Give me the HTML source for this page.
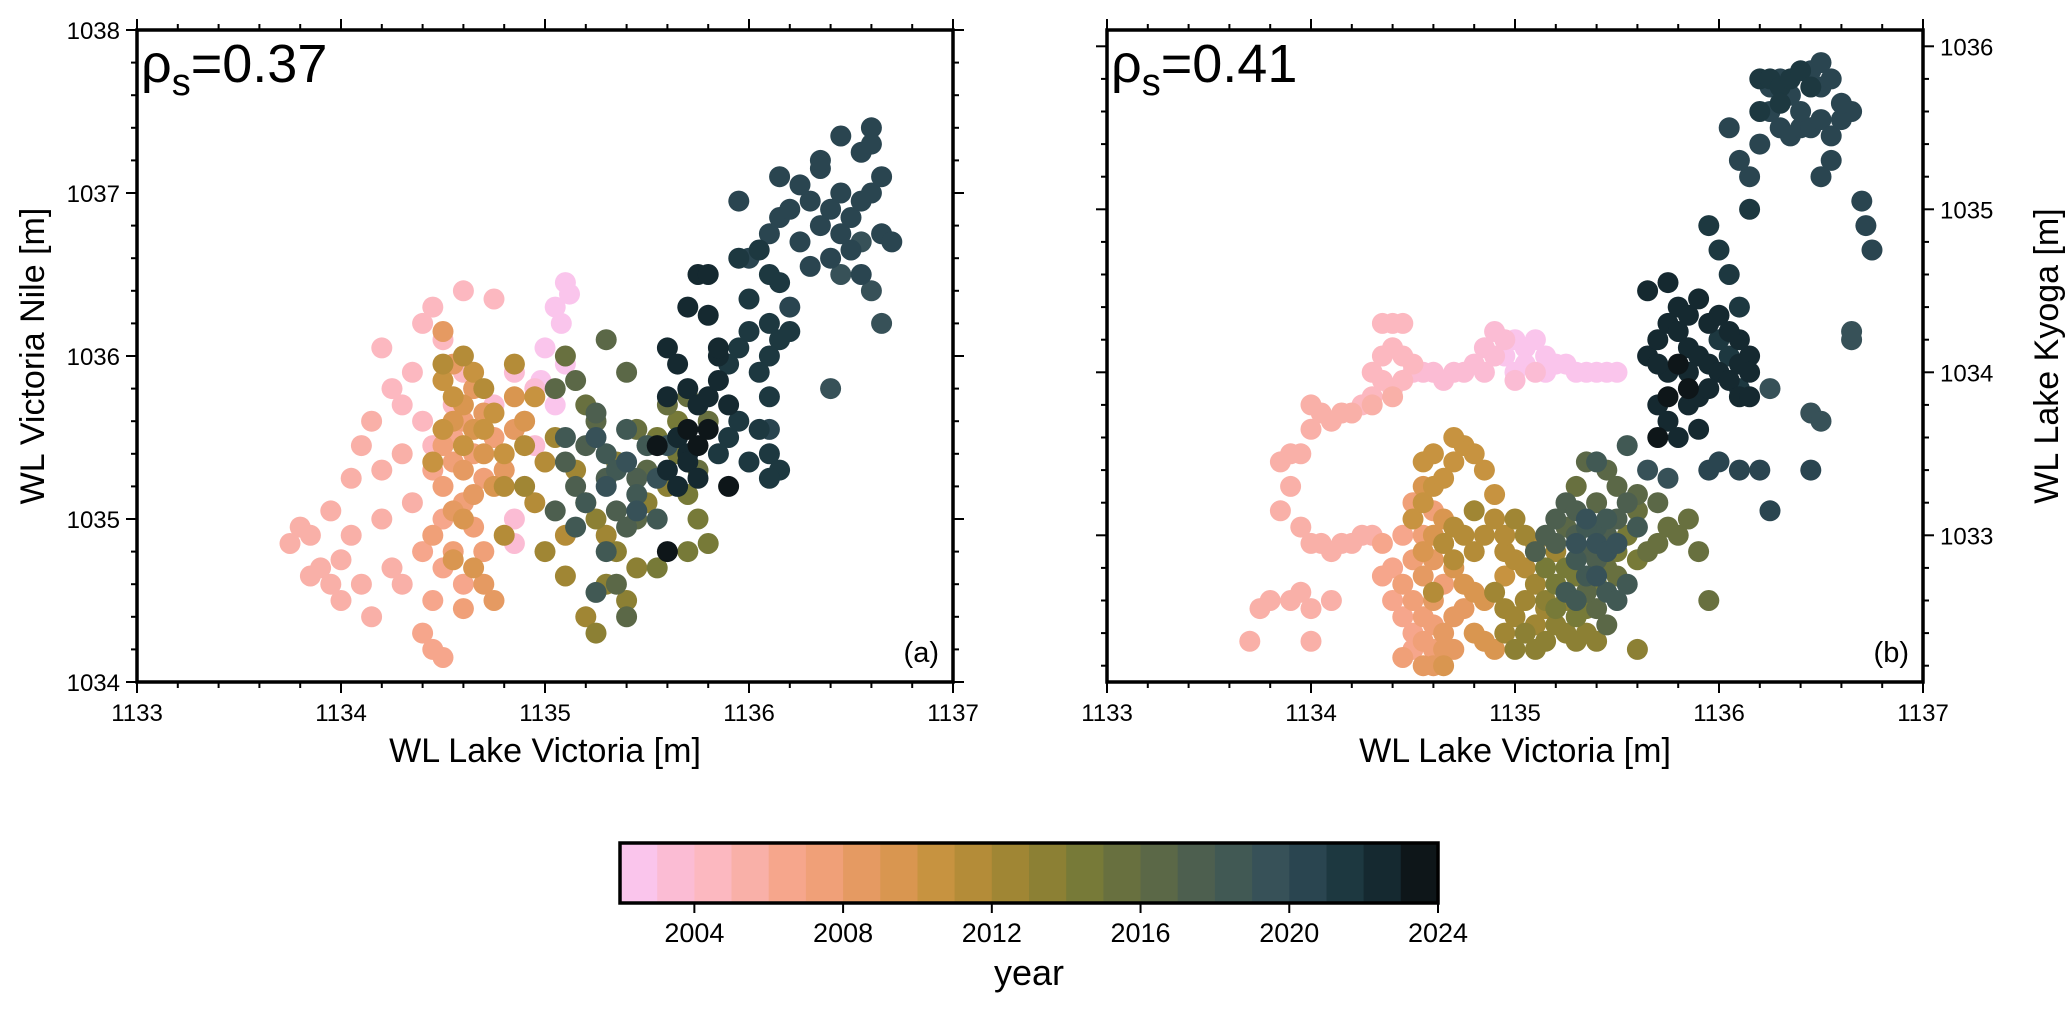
<!DOCTYPE html>
<html><head><meta charset="utf-8"><style>
html,body{margin:0;padding:0;background:#fff;}
svg text{font-family:"Liberation Sans",sans-serif;fill:#000;}
</style></head><body>
<svg id="chart" width="2067" height="1005" viewBox="0 0 2067 1005" xmlns="http://www.w3.org/2000/svg">
<g id="plotA"></g>
<g id="plotB"></g>
<g id="axes"></g>
<g id="cbar"></g>
</svg>
<script>
const colorYears=[2002,2003,2004,2005,2006,2007,2008,2009,2010,2011,2012,2013,2014,2015,2016,2017,2018,2019,2020,2021,2022,2023];
const colors=["#fac5ec","#fbbcd4","#fcb8c0","#f9b0a8","#f6a68c","#f0a078","#e59a62","#d99650","#c79340","#b48c38","#a08634","#8c8034","#777a38","#68703f","#5b6847","#4d5f4f","#415954","#375158","#2a4550","#1d3840","#152930","#0e1619"];
const cbarTicks=[2004,2008,2012,2016,2020,2024];
const xTicks=[1133,1134,1135,1136,1137];
const yTicksA=[1034,1035,1036,1037,1038];
const yTicksB=[1033,1034,1035,1036];
const rhoLabels=["0.37","0.41"];
// panel a: [x, y, year]
const ptsA=[
[1135.1,1036.45,2002],[1135.12,1036.38,2002],[1135.05,1036.3,2002],[1135.08,1036.2,2002],[1135.0,1036.05,2002],[1135.1,1035.95,2002],[1134.98,1035.85,2002],[1135.05,1035.7,2002],
[1134.95,1035.8,2003],[1134.85,1035.9,2003],[1134.9,1035.6,2003],[1134.95,1035.45,2003],[1134.8,1035.3,2003],[1134.9,1035.2,2003],[1134.85,1035.0,2003],[1134.75,1035.7,2003],[1134.85,1034.85,2003],
[1134.6,1036.4,2004],[1134.75,1036.35,2004],[1134.45,1036.3,2004],[1134.4,1036.2,2004],[1134.5,1036.1,2004],[1134.35,1035.9,2004],[1134.3,1035.7,2004],[1134.25,1035.8,2004],[1134.2,1036.05,2004],[1134.55,1035.7,2004],[1134.4,1035.6,2004],[1134.45,1035.45,2004],[1134.6,1035.9,2004],
[1133.75,1034.85,2005],[1133.85,1034.9,2005],[1133.8,1034.95,2005],[1133.9,1034.7,2005],[1133.95,1034.6,2005],[1134.0,1034.5,2005],[1134.05,1034.9,2005],[1133.95,1035.05,2005],[1134.05,1035.25,2005],[1134.1,1035.45,2005],[1134.15,1035.6,2005],[1134.3,1035.4,2005],[1134.25,1034.7,2005],[1134.3,1034.6,2005],[1134.15,1034.4,2005],[1134.35,1035.1,2005],[1134.2,1035.3,2005],[1133.85,1034.65,2005],[1134.0,1034.75,2005],[1134.1,1034.6,2005],[1134.2,1035.0,2005],
[1134.4,1034.3,2006],[1134.45,1034.2,2006],[1134.5,1034.15,2006],[1134.45,1034.5,2006],[1134.4,1034.8,2006],[1134.5,1035.0,2006],[1134.45,1035.3,2006],[1134.55,1035.5,2006],[1134.5,1034.7,2006],[1134.6,1034.6,2006],
[1134.5,1035.2,2007],[1134.55,1035.35,2007],[1134.6,1035.1,2007],[1134.65,1034.95,2007],[1134.55,1034.8,2007],[1134.6,1035.6,2007],[1134.65,1035.4,2007],[1134.7,1035.25,2007],[1134.5,1035.45,2007],[1134.45,1034.9,2007],[1134.7,1034.8,2007],[1134.6,1034.45,2007],[1134.75,1035.5,2007],
[1134.5,1036.15,2008],[1134.55,1035.95,2008],[1134.65,1035.8,2008],[1134.7,1035.65,2008],[1134.6,1035.3,2008],[1134.65,1035.15,2008],[1134.55,1035.05,2008],[1134.7,1034.6,2008],[1134.75,1034.5,2008],[1134.8,1035.3,2008],[1134.85,1035.55,2008],
[1134.6,1035.7,2009],[1134.65,1035.55,2009],[1134.55,1035.6,2009],[1134.7,1035.4,2009],[1134.75,1035.2,2009],[1134.6,1035.0,2009],[1134.55,1034.75,2009],[1134.65,1034.7,2009],[1134.9,1035.6,2009],[1134.85,1035.75,2009],
[1134.5,1035.55,2010],[1134.45,1035.35,2010],[1134.6,1035.45,2010],[1134.7,1035.55,2010],[1134.8,1035.4,2010],[1134.75,1035.65,2010],[1134.5,1035.85,2010],[1134.55,1035.75,2010],[1134.65,1035.9,2010],[1134.95,1035.75,2010],
[1134.5,1035.95,2011],[1134.6,1036.0,2011],[1134.7,1035.8,2011],[1134.85,1035.95,2011],[1134.9,1035.45,2011],[1135.0,1035.35,2011],[1134.8,1035.2,2011],[1134.95,1035.1,2011],[1135.1,1034.9,2011],[1134.8,1034.9,2011],
[1135.05,1035.5,2012],[1135.15,1035.3,2012],[1135.0,1034.8,2012],[1135.1,1034.65,2012],[1135.2,1035.1,2012],[1134.9,1035.2,2012],[1135.3,1034.9,2012],[1135.2,1034.4,2012],
[1135.25,1035.0,2013],[1135.35,1034.8,2013],[1135.3,1034.6,2013],[1135.4,1034.5,2013],[1135.25,1034.3,2013],[1135.45,1034.7,2013],[1135.5,1035.1,2013],[1135.35,1035.35,2013],[1135.6,1035.2,2013],
[1135.55,1035.5,2014],[1135.65,1035.4,2014],[1135.7,1035.15,2014],[1135.75,1035.0,2014],[1135.8,1034.85,2014],[1135.7,1034.8,2014],[1135.55,1034.7,2014],[1135.65,1035.6,2014],
[1135.6,1035.7,2015],[1135.7,1035.75,2015],[1135.8,1035.6,2015],[1135.75,1035.3,2015],[1135.45,1035.55,2015],[1135.2,1035.7,2015],[1135.1,1036.0,2015],
[1135.05,1035.8,2016],[1135.15,1035.85,2016],[1135.25,1035.6,2016],[1135.3,1036.1,2016],[1135.4,1035.9,2016],[1135.5,1035.3,2016],[1135.45,1035.0,2016],[1135.35,1034.6,2016],[1135.4,1034.4,2016],
[1135.15,1035.2,2017],[1135.2,1035.45,2017],[1135.3,1035.25,2017],[1135.35,1035.05,2017],[1135.1,1035.35,2017],[1135.25,1035.65,2017],[1135.45,1035.25,2017],[1135.4,1034.95,2017],[1135.05,1035.05,2017],
[1135.2,1035.1,2018],[1135.3,1035.4,2018],[1135.4,1035.55,2018],[1135.5,1035.45,2018],[1135.35,1035.3,2018],[1135.45,1035.15,2018],[1135.1,1035.5,2018],[1135.15,1034.95,2018],[1135.55,1035.0,2018],[1135.3,1034.8,2018],[1135.25,1034.55,2018],
[1135.4,1035.35,2019],[1135.3,1035.2,2019],[1135.45,1035.05,2019],[1135.25,1035.5,2019],[1135.55,1035.25,2019],[1135.6,1035.45,2019],[1136.4,1035.8,2019],[1136.65,1036.2,2019],[1136.6,1036.4,2019],[1136.55,1036.7,2019],[1136.45,1036.5,2019],
[1136.0,1036.6,2020],[1136.1,1036.75,2020],[1136.15,1036.85,2020],[1136.25,1036.7,2020],[1136.3,1036.95,2020],[1136.35,1036.8,2020],[1136.4,1036.9,2020],[1136.45,1037.0,2020],[1136.5,1036.85,2020],[1136.55,1036.95,2020],[1136.6,1037.0,2020],[1136.65,1036.75,2020],[1136.7,1036.7,2020],[1136.5,1036.65,2020],[1136.4,1036.6,2020],[1136.45,1037.35,2020],[1136.6,1037.4,2020],[1136.55,1037.25,2020],[1136.35,1037.15,2020],[1136.25,1037.05,2020],[1136.15,1037.1,2020],[1136.2,1036.9,2020],[1136.3,1036.55,2020],[1136.55,1036.5,2020],[1135.95,1036.95,2020],[1136.35,1037.2,2020],[1136.6,1037.3,2020],[1136.65,1037.1,2020],[1136.45,1036.75,2020],[1136.2,1036.3,2020],[1136.1,1035.55,2020],
[1135.85,1035.4,2021],[1135.9,1035.5,2021],[1135.95,1035.6,2021],[1136.0,1035.35,2021],[1136.05,1035.55,2021],[1136.1,1035.4,2021],[1136.15,1035.3,2021],[1136.1,1035.25,2021],[1136.1,1035.75,2021],[1136.05,1035.9,2021],[1135.9,1035.95,2021],[1135.95,1036.05,2021],[1136.0,1036.15,2021],[1136.1,1036.2,2021],[1136.15,1036.1,2021],[1136.2,1036.15,2021],[1136.1,1036.0,2021],[1136.0,1036.35,2021],[1136.05,1036.65,2021],[1136.1,1036.5,2021],[1135.95,1036.6,2021],[1136.15,1036.45,2021],
[1135.6,1036.05,2022],[1135.65,1035.95,2022],[1135.7,1035.8,2022],[1135.75,1035.7,2022],[1135.8,1035.75,2022],[1135.85,1035.85,2022],[1135.9,1035.7,2022],[1135.6,1035.75,2022],[1135.7,1036.3,2022],[1135.75,1036.5,2022],[1135.8,1036.5,2022],[1135.8,1036.25,2022],[1135.85,1036.0,2022],[1135.65,1035.5,2022],[1135.7,1035.4,2022],[1135.7,1035.35,2022],[1135.75,1035.25,2022],[1135.85,1036.05,2022],[1135.6,1035.3,2022],[1135.65,1035.2,2022],
[1135.75,1035.45,2023],[1135.8,1035.55,2023],[1135.7,1035.55,2023],[1135.55,1035.45,2023],[1135.9,1035.2,2023],[1135.6,1034.8,2023]
];
// panel b: [x, y, year]
const ptsB=[
[1135.0,1034.2,2002],[1135.05,1034.15,2002],[1135.1,1034.2,2002],[1135.15,1034.1,2002],[1135.2,1034.05,2002],[1135.25,1034.05,2002],[1135.3,1034.0,2002],[1135.35,1034.0,2002],[1135.4,1034.0,2002],[1135.45,1034.0,2002],[1135.5,1034.0,2002],[1134.95,1034.1,2002],[1135.05,1034.05,2002],[1135.15,1034.0,2002],[1135.0,1034.0,2002],
[1134.8,1034.05,2003],[1134.85,1034.15,2003],[1134.9,1034.1,2003],[1134.9,1034.25,2003],[1134.95,1034.2,2003],[1134.75,1034.0,2003],[1134.7,1034.0,2003],[1134.6,1034.0,2003],[1134.55,1034.0,2003],[1134.65,1033.95,2003],[1134.85,1034.0,2003],[1135.0,1033.95,2003],[1135.1,1034.0,2003],[1134.5,1034.0,2003],
[1134.35,1034.3,2004],[1134.4,1034.3,2004],[1134.45,1034.3,2004],[1134.4,1034.15,2004],[1134.45,1034.1,2004],[1134.5,1034.05,2004],[1134.35,1034.1,2004],[1134.3,1034.0,2004],[1134.35,1033.95,2004],[1134.4,1033.9,2004],[1134.45,1033.95,2004],[1134.3,1033.85,2004],[1134.25,1033.8,2004],
[1134.2,1033.75,2005],[1134.15,1033.75,2005],[1134.1,1033.7,2005],[1134.05,1033.75,2005],[1134.0,1033.8,2005],[1134.0,1033.65,2005],[1133.95,1033.5,2005],[1133.9,1033.5,2005],[1133.85,1033.45,2005],[1133.9,1033.3,2005],[1133.85,1033.15,2005],[1133.95,1033.05,2005],[1134.0,1032.95,2005],[1134.05,1032.95,2005],[1134.1,1032.9,2005],[1134.15,1032.95,2005],[1134.2,1032.95,2005],[1134.25,1033.0,2005],[1134.3,1033.0,2005],[1133.95,1032.65,2005],[1133.9,1032.6,2005],[1133.8,1032.6,2005],[1133.75,1032.55,2005],[1134.0,1032.55,2005],[1133.7,1032.35,2005],[1134.0,1032.35,2005],[1134.1,1032.6,2005],[1134.3,1033.8,2005],[1134.4,1033.85,2005],
[1134.35,1032.75,2006],[1134.4,1032.8,2006],[1134.4,1032.6,2006],[1134.45,1032.5,2006],[1134.5,1032.4,2006],[1134.35,1032.95,2006],[1134.45,1033.0,2006],[1134.5,1032.3,2006],
[1134.45,1032.7,2007],[1134.5,1032.6,2007],[1134.55,1032.5,2007],[1134.6,1032.45,2007],[1134.55,1032.35,2007],[1134.6,1032.3,2007],[1134.65,1032.7,2007],[1134.5,1032.85,2007],[1134.55,1033.0,2007],[1134.6,1033.15,2007],[1134.5,1033.2,2007],[1134.45,1032.25,2007],
[1134.6,1032.85,2008],[1134.65,1032.95,2008],[1134.6,1032.6,2008],[1134.7,1032.5,2008],[1134.65,1032.4,2008],[1134.55,1032.2,2008],[1134.65,1032.3,2008],[1134.75,1032.55,2008],[1134.55,1032.75,2008],[1134.6,1032.2,2008],[1134.7,1032.3,2008],
[1134.55,1032.9,2009],[1134.6,1033.0,2009],[1134.65,1033.1,2009],[1134.7,1032.8,2009],[1134.75,1032.7,2009],[1134.8,1032.65,2009],[1134.85,1032.6,2009],[1134.8,1032.4,2009],[1134.85,1032.35,2009],[1134.9,1032.3,2009],[1134.65,1032.2,2009],[1134.55,1033.3,2009],
[1134.5,1033.1,2010],[1134.55,1033.2,2010],[1134.6,1033.3,2010],[1134.55,1033.45,2010],[1134.6,1033.5,2010],[1134.7,1033.45,2010],[1134.75,1033.55,2010],[1134.8,1033.5,2010],[1134.65,1033.35,2010],[1134.85,1033.4,2010],[1134.7,1033.6,2010],[1134.9,1033.25,2010],[1134.95,1032.75,2010],
[1134.65,1032.95,2011],[1134.7,1033.05,2011],[1134.75,1033.0,2011],[1134.8,1032.9,2011],[1134.85,1033.0,2011],[1134.9,1033.1,2011],[1134.95,1032.9,2011],[1135.0,1032.85,2011],[1135.05,1032.8,2011],[1134.95,1033.0,2011],[1135.1,1032.95,2011],[1134.7,1032.85,2011],[1134.6,1032.65,2011],
[1134.9,1032.65,2012],[1134.95,1032.55,2012],[1135.0,1032.5,2012],[1135.05,1032.6,2012],[1135.1,1032.7,2012],[1135.15,1032.55,2012],[1135.0,1033.1,2012],[1134.8,1033.15,2012],[1135.05,1033.0,2012],[1135.1,1032.45,2012],[1134.95,1032.4,2012],[1135.2,1032.9,2012],
[1135.0,1032.3,2013],[1135.05,1032.4,2013],[1135.1,1032.3,2013],[1135.15,1032.35,2013],[1135.2,1032.45,2013],[1135.25,1032.4,2013],[1135.3,1032.35,2013],[1135.35,1032.4,2013],[1135.15,1032.6,2013],[1135.25,1032.6,2013],[1135.4,1032.35,2013],[1135.6,1032.3,2013],
[1135.2,1032.55,2014],[1135.3,1032.5,2014],[1135.2,1032.7,2014],[1135.35,1032.55,2014],[1135.15,1032.8,2014],[1135.25,1032.8,2014],[1135.3,1032.75,2014],[1135.4,1032.7,2014],[1135.5,1032.9,2014],[1135.55,1033.0,2014],[1135.6,1032.85,2014],
[1135.45,1032.8,2015],[1135.5,1032.75,2015],[1135.65,1032.9,2015],[1135.7,1032.95,2015],[1135.75,1033.05,2015],[1135.8,1033.0,2015],[1135.85,1033.1,2015],[1135.9,1032.9,2015],[1135.95,1032.6,2015],[1135.6,1033.15,2015],[1135.3,1033.3,2015],
[1135.4,1032.55,2016],[1135.45,1032.45,2016],[1135.35,1032.65,2016],[1135.25,1033.05,2016],[1135.4,1033.2,2016],[1135.45,1033.4,2016],[1135.5,1033.3,2016],[1135.6,1033.25,2016],[1135.7,1033.2,2016],[1135.35,1033.45,2016],
[1135.1,1032.9,2017],[1135.15,1033.0,2017],[1135.2,1033.1,2017],[1135.25,1033.2,2017],[1135.3,1033.0,2017],[1135.35,1032.9,2017],[1135.4,1032.85,2017],[1135.45,1033.0,2017],[1135.5,1033.1,2017],[1135.55,1033.2,2017],[1135.3,1033.15,2017],[1135.2,1032.95,2017],
[1135.25,1032.65,2018],[1135.3,1032.6,2018],[1135.35,1032.75,2018],[1135.4,1033.05,2018],[1135.45,1032.65,2018],[1135.5,1032.6,2018],[1135.55,1032.7,2018],[1135.35,1033.05,2018],[1135.3,1032.85,2018],[1135.45,1033.1,2018],[1135.55,1033.55,2018],[1135.4,1033.45,2018],[1135.6,1033.05,2018],
[1135.4,1032.95,2019],[1135.35,1033.1,2019],[1135.45,1032.9,2019],[1135.3,1032.95,2019],[1135.4,1032.75,2019],[1135.5,1032.95,2019],[1135.65,1033.4,2019],[1135.75,1033.35,2019],[1136.25,1033.9,2019],[1136.45,1033.75,2019],[1136.5,1033.7,2019],[1136.65,1034.2,2019],[1136.65,1034.25,2019],
[1135.95,1033.4,2020],[1136.0,1033.45,2020],[1136.1,1033.4,2020],[1136.2,1033.4,2020],[1136.25,1033.15,2020],[1136.45,1033.4,2020],[1136.2,1035.4,2020],[1136.25,1035.6,2020],[1136.3,1035.5,2020],[1136.35,1035.45,2020],[1136.4,1035.5,2020],[1136.45,1035.5,2020],[1136.5,1035.55,2020],[1136.55,1035.45,2020],[1136.6,1035.55,2020],[1136.65,1035.6,2020],[1136.55,1035.3,2020],[1136.5,1035.2,2020],[1136.6,1035.65,2020],[1136.4,1035.6,2020],[1136.35,1035.7,2020],[1136.5,1035.75,2020],[1136.55,1035.8,2020],[1136.45,1035.85,2020],[1136.5,1035.9,2020],[1136.3,1035.8,2020],[1136.25,1035.75,2020],[1136.7,1035.05,2020],[1136.72,1034.9,2020],[1136.75,1034.75,2020],[1136.15,1035.2,2020],[1136.1,1035.3,2020],[1136.05,1035.5,2020],
[1135.95,1034.9,2021],[1136.0,1034.75,2021],[1136.05,1034.6,2021],[1136.1,1034.4,2021],[1136.15,1035.0,2021],[1136.0,1034.2,2021],[1136.05,1034.1,2021],[1136.1,1033.9,2021],[1136.2,1035.8,2021],[1136.25,1035.8,2021],[1136.3,1035.75,2021],[1136.35,1035.8,2021],[1136.4,1035.85,2021],[1136.45,1035.75,2021],[1136.3,1035.65,2021],[1136.2,1035.6,2021],
[1135.65,1034.1,2022],[1135.7,1034.2,2022],[1135.75,1034.3,2022],[1135.8,1034.25,2022],[1135.85,1034.15,2022],[1135.9,1034.1,2022],[1135.95,1034.05,2022],[1136.0,1034.0,2022],[1136.05,1033.95,2022],[1136.1,1034.05,2022],[1136.15,1034.1,2022],[1135.65,1034.5,2022],[1135.75,1034.55,2022],[1135.8,1034.4,2022],[1135.85,1034.35,2022],[1135.9,1034.45,2022],[1135.95,1034.3,2022],[1136.0,1034.35,2022],[1136.1,1034.2,2022],[1136.15,1034.0,2022],[1135.7,1033.8,2022],[1135.75,1033.7,2022],[1135.8,1033.6,2022],[1135.85,1033.8,2022],[1135.9,1033.85,2022],[1135.95,1033.9,2022],[1135.75,1034.0,2022],[1135.7,1034.05,2022],[1135.85,1034.0,2022],[1136.05,1034.25,2022],[1135.9,1033.65,2022],[1136.1,1033.85,2022],[1136.15,1033.85,2022],
[1135.8,1034.05,2023],[1135.85,1033.9,2023],[1135.75,1033.85,2023],[1135.7,1033.6,2023]
];

const NS="http://www.w3.org/2000/svg";
function mk(tag,attrs,parent){const e=document.createElementNS(NS,tag);for(const k in attrs)e.setAttribute(k,attrs[k]);parent.appendChild(e);return e;}
const PA={l:137,r:953,t:30,b:682,x0:1133,x1:1137,y0:1034,y1:1038};
const PB={l:1107,r:1923,t:30,b:682,x0:1133,x1:1137,y0:1032.1,y1:1036.1};
function sx(P,v){return P.l+(v-P.x0)/(P.x1-P.x0)*(P.r-P.l);}
function sy(P,v){return P.b-(v-P.y0)/(P.y1-P.y0)*(P.b-P.t);}
function colorOf(yr){let i=Math.floor(yr)-colorYears[0];i=Math.max(0,Math.min(colors.length-1,i));return colors[i];}

function drawPts(P,pts,g){
  const sorted=pts.slice().sort((a,b)=>a[2]-b[2]);
  sorted.forEach(p=>{
    const c=mk('circle',{cx:sx(P,p[0]).toFixed(1),cy:sy(P,p[1]).toFixed(1),r:10.5,fill:colorOf(p[2])},g);
    
    
  });
}
drawPts(PA,ptsA,document.getElementById('plotA'));
drawPts(PB,ptsB,document.getElementById('plotB'));

const ax=document.getElementById('axes');
function tickStyle(){return {stroke:'#000','stroke-width':2};}
function drawFrame(P,yTicks,labelLeft,labelRight,name){
  const g=mk('g',{},ax);
  
  
  for(let v=P.x0;v<=P.x1+1e-6;v+=0.2){
    const major=Math.abs(v-Math.round(v))<1e-6;const L=major?11:6;const x=sx(P,v);
    mk('line',Object.assign({x1:x,x2:x,y1:P.b,y2:P.b+L},tickStyle()),g);
    mk('line',Object.assign({x1:x,x2:x,y1:P.t,y2:P.t-L},tickStyle()),g);
  }
  xTicks.forEach(v=>{const t=mk('text',{x:sx(P,v),y:P.b+39,'font-size':24,'text-anchor':'middle'},g);t.textContent=v;
    });
  const start=Math.ceil(P.y0*5-1e-6)/5;
  for(let v=start;v<=P.y1+1e-6;v+=0.2){
    const major=Math.abs(v-Math.round(v))<1e-6;const L=major?11:6;const y=sy(P,v);
    mk('line',Object.assign({x1:P.l,x2:P.l-L,y1:y,y2:y},tickStyle()),g);
    mk('line',Object.assign({x1:P.r,x2:P.r+L,y1:y,y2:y},tickStyle()),g);
  }
  yTicks.forEach(v=>{
    if(labelLeft){const t=mk('text',{x:P.l-17,y:sy(P,v)+9,'font-size':24,'text-anchor':'end'},g);t.textContent=v;
      }
    if(labelRight){const t=mk('text',{x:P.r+17,y:sy(P,v)+9,'font-size':24,'text-anchor':'start'},g);t.textContent=v;
      }
  });
  const f=mk('rect',{x:P.l,y:P.t,width:P.r-P.l,height:P.b-P.t,fill:'none',stroke:'#000','stroke-width':3.5},g);
  
}
drawFrame(PA,yTicksA,true,false,'panel-a');
drawFrame(PB,yTicksB,false,true,'panel-b');

function txt(x,y,s,size,name,extra){const t=mk('text',Object.assign({x:x,y:y,'font-size':size},extra||{}),ax);t.textContent=s;
  return t;}
txt((PA.l+PA.r)/2,762,'WL Lake Victoria [m]',34,'x-axis-title-a',{'text-anchor':'middle'});
txt((PB.l+PB.r)/2,762,'WL Lake Victoria [m]',34,'x-axis-title-b',{'text-anchor':'middle'});
txt(0,0,'WL Victoria Nile [m]',34,'y-axis-title-a',{'text-anchor':'middle',transform:'translate(44,356) rotate(-90)'});
txt(0,0,'WL Lake Kyoga [m]',34,'y-axis-title-b',{'text-anchor':'middle',transform:'translate(2058,356) rotate(-90)'});
txt(PA.r-14,662,'(a)',29,'panel-label-a',{'text-anchor':'end'});
txt(PB.r-14,662,'(b)',29,'panel-label-b',{'text-anchor':'end'});
[PA,PB].forEach((P,i)=>{
  const t=mk('text',{x:P.l+4,y:82,'font-size':54},ax);
  
  
  const a=mk('tspan',{},t);a.textContent='ρ';
  const b=mk('tspan',{dy:13,'font-size':38},t);b.textContent='s';
  const c=mk('tspan',{dy:-13},t);c.textContent='='+rhoLabels[i];
});

const cb=document.getElementById('cbar');
const CB={l:620,r:1438,t:843,b:903,y0:2002,y1:2024};
function cx(v){return CB.l+(v-CB.y0)/(CB.y1-CB.y0)*(CB.r-CB.l);}
colorYears.forEach((yr,i)=>{
  const r=mk('rect',{x:cx(yr).toFixed(1),y:CB.t,width:(cx(yr+1)-cx(yr)+0.6).toFixed(1),height:CB.b-CB.t,fill:colors[i]},cb);
  
  
});
const cf=mk('rect',{x:CB.l,y:CB.t,width:CB.r-CB.l,height:CB.b-CB.t,fill:'none',stroke:'#000','stroke-width':3.5},cb);


cbarTicks.forEach(v=>{
  mk('line',{x1:cx(v),x2:cx(v),y1:CB.b,y2:CB.b+10,stroke:'#000','stroke-width':2},cb);
  const t=mk('text',{x:cx(v),y:CB.b+39,'font-size':27,'text-anchor':'middle'},cb);t.textContent=v;
  
  
});
const yl=mk('text',{x:(CB.l+CB.r)/2,y:CB.b+82,'font-size':36,'text-anchor':'middle'},cb);yl.textContent='year';


</script>
</body></html>
